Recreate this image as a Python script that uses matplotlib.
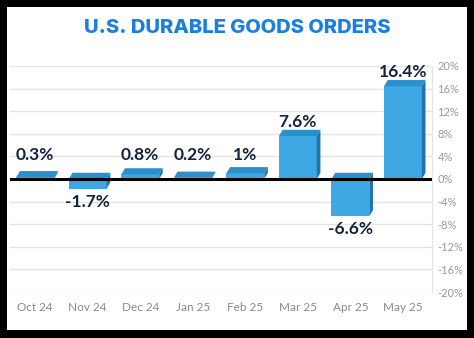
import matplotlib
matplotlib.use('Agg')
import matplotlib.pyplot as plt
from matplotlib.patches import Rectangle, Polygon
from matplotlib.ticker import FuncFormatter, MultipleLocator

months = ['Oct 24', 'Nov 24', 'Dec 24', 'Jan 25', 'Feb 25', 'Mar 25', 'Apr 25', 'May 25']
changes = [0.3, -1.7, 0.8, 0.2, 1.0, 7.6, -6.6, 16.4]
labels = ['0.3%', '-1.7%', '0.8%', '0.2%', '1%', '7.6%', '-6.6%', '16.4%']

fig = plt.figure(figsize=(4.74, 3.38), dpi=100)
fig.patch.set_facecolor('black')
# white panel inside the black frame
fig.patches.append(Rectangle((7 / 474, 8 / 338), 460 / 474, 323 / 338,
                             transform=fig.transFigure, facecolor='white',
                             edgecolor='none', zorder=-5))

fig.text(0.5, 0.917, 'U.S. DURABLE GOODS ORDERS', ha='center', va='center',
         fontsize=14.5, fontweight='heavy', color='#1a7fe0', family='Inter')

ax = fig.add_axes([0.021, 0.136, 0.890, 0.669])
ax.set_facecolor('none')

x = list(range(len(months)))
w = 0.72
dx, dy = 0.07, 1.1

ax.bar(x, changes, width=w, color='#3ea8e4', edgecolor='none', zorder=3)
for xi, v in zip(x, changes):
    top = max(v, 0)
    # top face and right side to fake the 3D look
    ax.add_patch(Polygon([(xi - w / 2, top), (xi + w / 2, top),
                          (xi + w / 2 + dx, top + dy), (xi - w / 2 + dx, top + dy)],
                         closed=True, facecolor='#2b8fcb', edgecolor='none', zorder=3))
    ax.add_patch(Polygon([(xi + w / 2, min(v, 0)), (xi + w / 2, top),
                          (xi + w / 2 + dx, top + dy), (xi + w / 2 + dx, min(v, 0) + dy)],
                         closed=True, facecolor='#1f74b0', edgecolor='none', zorder=3))

for xi, v, lab in zip(x, changes, labels):
    y = max(v + 2.5, 4.3) if v >= 0 else v - 2.3
    ax.text(xi, y, lab, ha='center', va='center', fontsize=12.5,
            fontweight='bold', color='#14233d', family='Lato', zorder=5)

ax.axhline(0, color='black', linewidth=2.2, zorder=4)

ax.set_ylim(-20, 20)
ax.set_xlim(-0.48, 7.55)
ax.yaxis.set_major_locator(MultipleLocator(4))
ax.yaxis.set_major_formatter(FuncFormatter(lambda v, p: f'{v:.0f}%'))
ax.yaxis.tick_right()
ax.grid(axis='y', color='#e4e4e4', linewidth=1, zorder=0)

ax.set_xticks(x)
ax.set_xticklabels(months)
ax.tick_params(axis='x', length=0, pad=7, labelsize=8.5, labelcolor='#8a8a8a')
ax.tick_params(axis='y', length=0, pad=4, labelsize=8, labelcolor='#9a9a9a')
for t in ax.get_xticklabels() + ax.get_yticklabels():
    t.set_family('Lato')

for s in ['top', 'left', 'bottom']:
    ax.spines[s].set_visible(False)
ax.spines['right'].set_color('#e4e4e4')

fig.savefig('out.png', dpi=100, facecolor=fig.get_facecolor())
